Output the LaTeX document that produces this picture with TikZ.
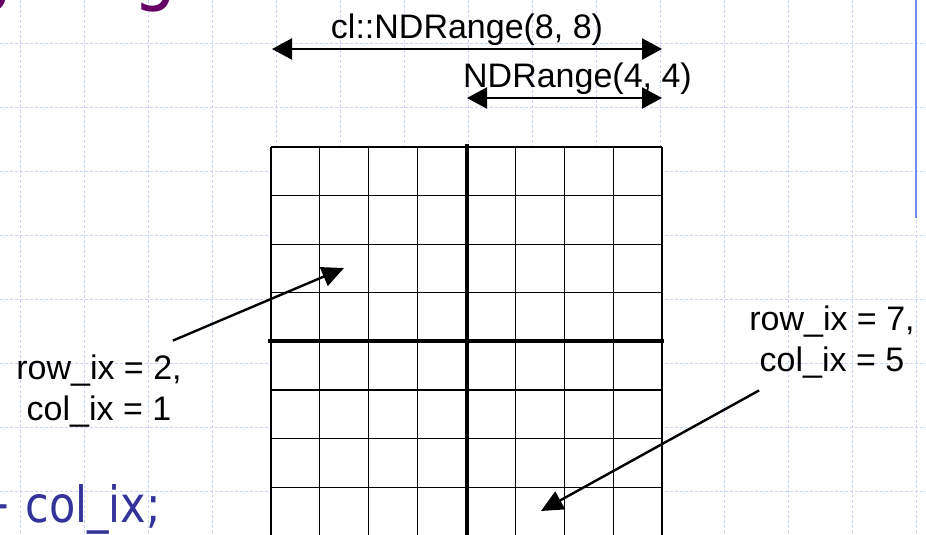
\documentclass[tikz,border=0pt]{standalone}
\usepackage{fontspec}
\setmainfont{Liberation Sans}
\newfontfamily\slidefont{DejaVu Sans}[FakeStretch=0.86]
\usepackage{tikz}
\usetikzlibrary{arrows.meta}
\definecolor{titlepurple}{HTML}{660066}
\definecolor{codeblue}{HTML}{333399}
\definecolor{barblue}{HTML}{7088F0}
\definecolor{paper}{HTML}{C9D5F7}
\tikzset{
  pgrid/.style={draw=paper,line width=0.9pt,dash pattern=on 3pt off 2pt},
  cellline/.style={draw=black,line width=1.1pt},
  axisline/.style={draw=black,line width=4pt},
  dimarr/.style={{Triangle[length=20pt,width=21pt]}-{Triangle[length=20pt,width=21pt]},line width=2.3pt},
  callarr/.style={-{Triangle[length=22pt,width=20pt]},line width=2.4pt},
  bigtext/.style={font={\fontsize{34}{41}\selectfont}},
  idxlabel/.style={bigtext,align=center,inner sep=2pt},
  codetext/.style={text=codeblue,font={\slidefont\fontsize{50}{50}\selectfont},inner sep=0pt},
  titletext/.style={text=titlepurple,font={\slidefont\fontsize{80}{80}\selectfont},inner sep=0pt}
}

\begin{document}
\begin{tikzpicture}[x=1pt,y=-1pt]
  \useasboundingbox (0,0) rectangle (926,535);
  \clip (0,0) rectangle (926,535);
  % slide background
  \foreach \gx in {20,84,...,916} \draw[pgrid] (\gx,0) -- (\gx,535);
  \foreach \gy in {43,107,...,491} \draw[pgrid] (0,\gy) -- (926,\gy);
  \draw[barblue,line width=2pt] (916,0) -- (916,218);
  % cut-off slide text
  \node[titletext,anchor=base west] (ttlA) at (-31,-4) {g};
  \node[titletext,anchor=base west] (ttlB) at (133,-4) {g};
  \node[codetext,anchor=base east] (codeA) at (5,452) {;};
  \node[codetext,anchor=base east] (codeB) at (161,522) {+ col\_ix;};
  % 8x8 work-items
  \fill[white] (271,147) rectangle (662,540);
  \foreach \k in {0,...,8} {
    \draw[cellline] (271+48.875*\k,147) -- (271+48.875*\k,540);
    \draw[cellline] (271,147+48.6*\k) -- (662,147+48.6*\k);
  }
  \draw[axisline] (466.5,144) -- (466.5,540);
  \draw[axisline] (268,341.3) -- (664,341.3);
  % ranges
  \coordinate (gL) at (272,49);
  \coordinate (gR) at (662,49);
  \draw[dimarr] (gL) -- node[bigtext,above,inner sep=2pt] (glob) {cl::NDRange(8, 8)} (gR);
  \coordinate (lL) at (467,98);
  \coordinate (lR) at (662,98);
  \draw[dimarr] (lL) -- node[bigtext,above,inner sep=2pt,xshift=13pt] (loc) {NDRange(4, 4)} (lR);
  % two work-items
  \node[idxlabel] (ix21) at (99,391) {row\_ix = 2,\\col\_ix = 1};
  \node[idxlabel] (ix75) at (832,342) {row\_ix = 7,\\col\_ix = 5};
  \coordinate (cell21) at (344,268);
  \coordinate (cell75) at (541,511);
  \draw[callarr] ([xshift=-11pt,yshift=12pt]ix21.north east) -- (cell21);
  \draw[callarr] ([xshift=12pt,yshift=-10pt]ix75.south west) -- (cell75);
\end{tikzpicture}
\end{document}
